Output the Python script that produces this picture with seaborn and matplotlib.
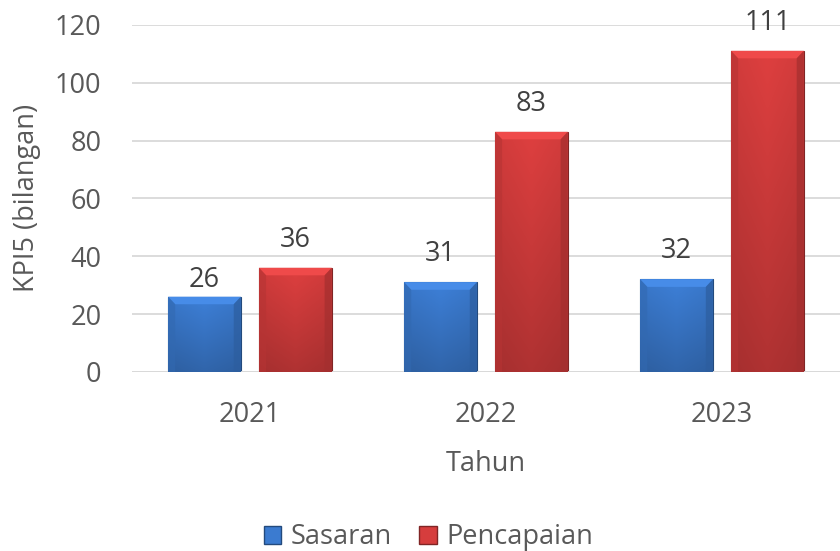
import numpy as np
import pandas as pd
import seaborn as sns
import matplotlib.pyplot as plt
from matplotlib.patches import Polygon, Patch
from matplotlib.colors import to_rgb

# Data
tahun = ['2021', '2022', '2023']
sasaran = [26, 31, 32]
pencapaian = [36, 83, 111]
siri = ['Sasaran', 'Pencapaian']

df = pd.DataFrame({
    'Tahun': tahun * 2,
    'Nilai': sasaran + pencapaian,
    'Jenis': [siri[0]] * 3 + [siri[1]] * 3,
})

warna = {'Sasaran': '#3b7bd0', 'Pencapaian': '#d63d3d'}
teks = '#595959'
fs = 19.5

sns.set_theme(style='white')
plt.rcParams['font.family'] = ['Open Sans', 'DejaVu Sans']

fig = plt.figure(figsize=(8.4, 5.51), dpi=100)
ax = fig.add_axes([0.157, 0.325, 0.843, 0.630])

sns.barplot(data=df, x='Tahun', y='Nilai', hue='Jenis', palette=warna,
            width=0.77, gap=0.2, ax=ax, legend=False, saturation=1)

ax.set_ylim(0, 120)
ax.set_yticks(range(0, 121, 20))
ax.yaxis.grid(True, color='#d9d9d9', linewidth=1.3)
ax.set_axisbelow(True)
for s in ax.spines.values():
    s.set_visible(False)
ax.axhline(0, color='#d9d9d9', linewidth=1.3, zorder=1)


def gradien(rgb, ny=120, nx=60):
    yy = np.linspace(0, 1, ny)[:, None]
    xx = np.linspace(0, 1, nx)[None, :]
    f = 1.04 - 0.22 * yy
    f = f * (1 - 0.06 * np.abs(xx - 0.5) * 2)
    img = np.clip(np.array(rgb)[None, None, :] * f[:, :, None], 0, 1)
    return img


xl = ax.get_xlim()
yl = ax.get_ylim()
for cont, nama in zip(ax.containers, siri):
    base = np.array(to_rgb(warna[nama]))
    for bar in cont:
        x, y = bar.get_x(), bar.get_y()
        w, h = bar.get_width(), bar.get_height()
        bar.set_edgecolor(base * 0.6)
        bar.set_linewidth(0.8)
        im = ax.imshow(gradien(base), extent=[x, x + w, y, y + h],
                       aspect='auto', zorder=bar.get_zorder() + 0.1,
                       interpolation='bilinear')
        im.set_clip_path(bar)
        dx = 0.03
        dy = 2.6
        atas = np.clip(base * 1.08 + 0.03, 0, 1)
        sisi = base * 0.85
        ax.add_patch(Polygon([(x, y + h), (x + w, y + h), (x + w - dx, y + h - dy),
                              (x + dx, y + h - dy)], closed=True, facecolor=atas,
                             edgecolor='none', zorder=bar.get_zorder() + 0.2))
        ax.add_patch(Polygon([(x, y), (x, y + h), (x + dx, y + h - dy), (x + dx, y)],
                             closed=True, facecolor=sisi, edgecolor='none',
                             zorder=bar.get_zorder() + 0.2, alpha=0.6))
        ax.add_patch(Polygon([(x + w, y), (x + w, y + h), (x + w - dx, y + h - dy),
                              (x + w - dx, y)], closed=True, facecolor=sisi * 0.9,
                             edgecolor='none', zorder=bar.get_zorder() + 0.2, alpha=0.7))
    lbl = ax.bar_label(cont, padding=10, fontsize=fs, color='#404040')
    if nama == 'Sasaran':
        # label 2021 sits closer to its bar in the original
        lbl[0].xyann = (0, 2)
ax.set_xlim(xl)
ax.set_ylim(yl)

ax.tick_params(axis='y', labelsize=fs, labelcolor=teks, pad=22, length=0)
ax.tick_params(axis='x', labelsize=fs, labelcolor=teks, pad=21, length=0)
ax.set_xlabel('Tahun', fontsize=fs, color=teks, labelpad=15)
ax.set_ylabel('KPI5 (bilangan)', fontsize=fs, color=teks, labelpad=10)

handles = [Patch(facecolor=warna[n], edgecolor=np.array(to_rgb(warna[n])) * 0.6, label=n)
           for n in siri]
fig.legend(handles=handles, loc='center', bbox_to_anchor=(0.51, 0.025), ncol=2,
           frameon=False, fontsize=fs, handlelength=0.65, handleheight=0.65,
           handletextpad=0.35, columnspacing=1.0, labelcolor=teks)

fig.savefig('out.png', dpi=100)
